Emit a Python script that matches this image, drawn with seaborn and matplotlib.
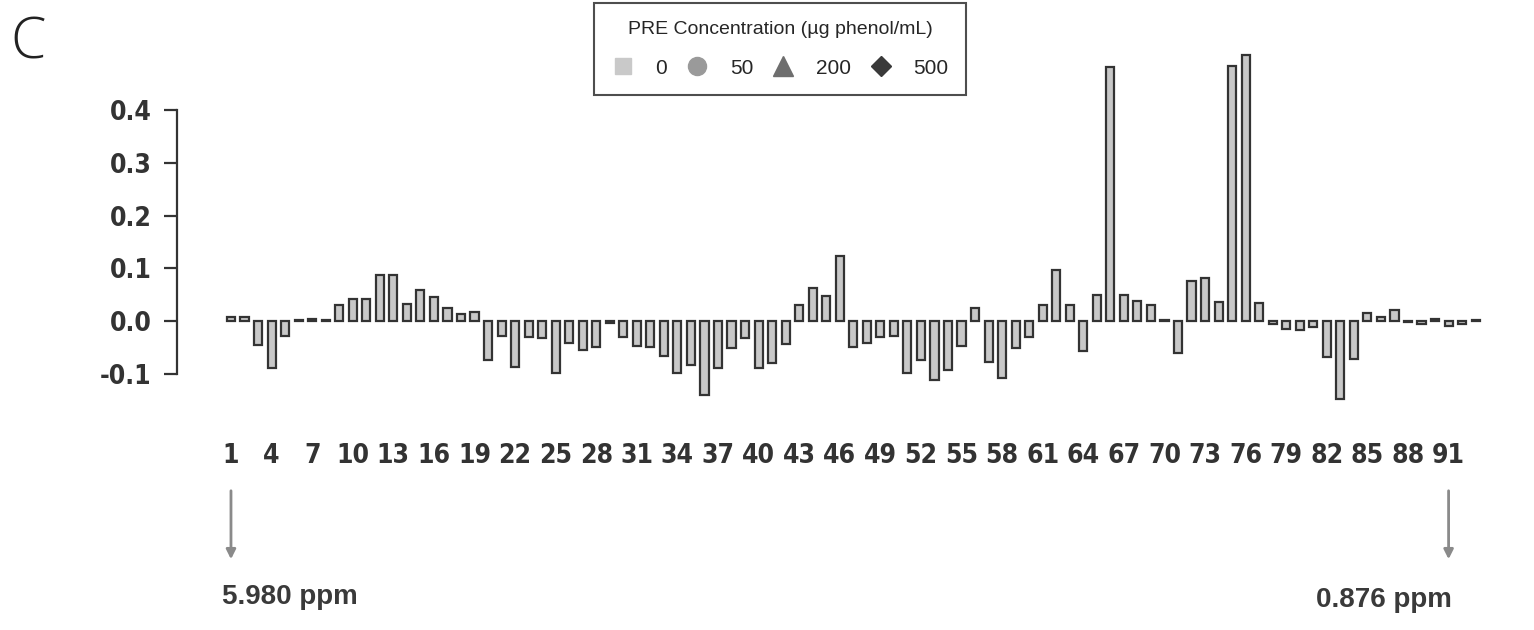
import numpy as np
import pandas as pd
import matplotlib
matplotlib.use("Agg")
import matplotlib.pyplot as plt
from matplotlib import font_manager
from matplotlib.lines import Line2D
import seaborn as sns

# --- datos ---
bins = list(range(1, 94))
loadings = [
    0.008, 0.009, -0.044, -0.089, -0.028, 0.003, 0.004, 0.002, 0.030, 0.043,
    0.043, 0.088, 0.088, 0.033, 0.059, 0.046, 0.025, 0.014, 0.017, -0.074,
    -0.027, -0.087, -0.030, -0.032, -0.098, -0.042, -0.055, -0.049, -0.004, -0.030,
    -0.046, -0.049, -0.065, -0.098, -0.082, -0.139, -0.089, -0.051, -0.032, -0.089,
    -0.079, -0.043, 0.030, 0.063, 0.047, 0.123, -0.048, -0.041, -0.030, -0.027,
    -0.097, -0.073, -0.111, -0.092, -0.047, 0.025, -0.078, -0.108, -0.051, -0.030,
    0.030, 0.097, 0.030, -0.057, 0.049, 0.481, 0.049, 0.038, 0.030, 0.003,
    -0.060, 0.076, 0.081, 0.037, 0.483, 0.504, 0.034, -0.005, -0.015, -0.017,
    -0.010, -0.068, -0.148, -0.072, 0.016, 0.009, 0.022, -0.002, -0.005, 0.005,
    -0.008, -0.006, 0.003,
]
xtick_labels = [str(b) for b in range(1, 92, 3)]
ytick_values = [-0.1, 0.0, 0.1, 0.2, 0.3, 0.4]
legend_labels = ["0", "50", "200", "500"]
legend_markers = ["s", "o", "^", "D"]
legend_colors = ["#c9c9c9", "#9a9a9a", "#6e6e6e", "#3a3a3a"]
ppm_left = "5.980 ppm"
ppm_right = "0.876 ppm"

df = pd.DataFrame({"bin": [str(b) for b in bins], "loading": loadings})

sns.set_style("ticks")
plt.rcParams["font.family"] = ["Liberation Sans", "DejaVu Sans"]

# fuente estrecha para las etiquetas de los ejes
narrow = font_manager.FontProperties(family="DejaVu Sans", stretch="condensed",
                                     weight="bold", size=19)

W, H = 1534, 630
fig = plt.figure(figsize=(W / 100, H / 100), dpi=100)
ax = fig.add_axes([177 / W, 1 - 410 / H, 1323 / W, 370 / H])

sns.barplot(data=df, x="bin", y="loading", order=df["bin"], color="#c8c8c8",
            edgecolor="#333333", linewidth=1.6, width=0.6, saturation=1, ax=ax)

ax.set_xlim(-3.99, 93.8)
ax.set_ylim(-0.168, 0.5326)
ax.set_xlabel("")
ax.set_ylabel("")

for s in ["top", "right", "bottom"]:
    ax.spines[s].set_visible(False)
ax.spines["left"].set_bounds(-0.1, 0.4)
ax.spines["left"].set_linewidth(1.6)
ax.spines["left"].set_color("#333333")

ax.set_yticks(ytick_values)
ax.set_yticklabels([f"{v:.1f}" for v in ytick_values], fontproperties=narrow, color="#333333")
ax.tick_params(axis="y", left=True, length=9.5, width=1.6, color="#333333", pad=9)

ax.set_xticks(range(0, 91, 3))
ax.set_xticklabels(xtick_labels, fontproperties=narrow, color="#333333")
ax.tick_params(axis="x", bottom=False, length=0, pad=24)

# flechas de desplazamiento quimico
for xpos in [0, 90]:
    ax.annotate("", xy=(xpos, 1 - 562 / H), xytext=(xpos, 1 - 488 / H),
                xycoords=("data", "figure fraction"), textcoords=("data", "figure fraction"),
                arrowprops=dict(arrowstyle="-|>", color="#8a8a8a", lw=2, mutation_scale=14))

fig.text(222 / W, 1 - 597 / H, ppm_left, ha="left", va="center", fontsize=20,
         fontweight="bold", color="#3a3a3a")
fig.text(1452 / W, 1 - 600 / H, ppm_right, ha="right", va="center", fontsize=20,
         fontweight="bold", color="#3a3a3a")

fig.text(10 / W, 1 - 44 / H, "C", ha="left", va="center", fontsize=41,
         color="#222222", family=["Open Sans", "DejaVu Sans"], fontweight="light")

sizes = {"s": 12, "o": 13, "^": 14, "D": 10}
handles = [Line2D([], [], linestyle="none", marker=m, markersize=sizes[m],
                  markerfacecolor=c, markeredgecolor=c) for m, c in zip(legend_markers, legend_colors)]
leg = fig.legend(handles, legend_labels, ncol=4, title="PRE Concentration (µg phenol/mL)",
                 loc="upper center", bbox_to_anchor=(780 / W, 1 - 3 / H), frameon=True,
                 fancybox=False, edgecolor="#222222", borderaxespad=0,
                 handlelength=1.1, handletextpad=1.0, columnspacing=0.9, borderpad=0.85,
                 labelspacing=0.3, prop={"family": "Liberation Sans", "size": 15},
                 title_fontproperties={"family": "Liberation Sans", "size": 14})
leg.get_frame().set_linewidth(1.5)
leg._legend_box.sep = 15

fig.savefig("out.png", dpi=100)
